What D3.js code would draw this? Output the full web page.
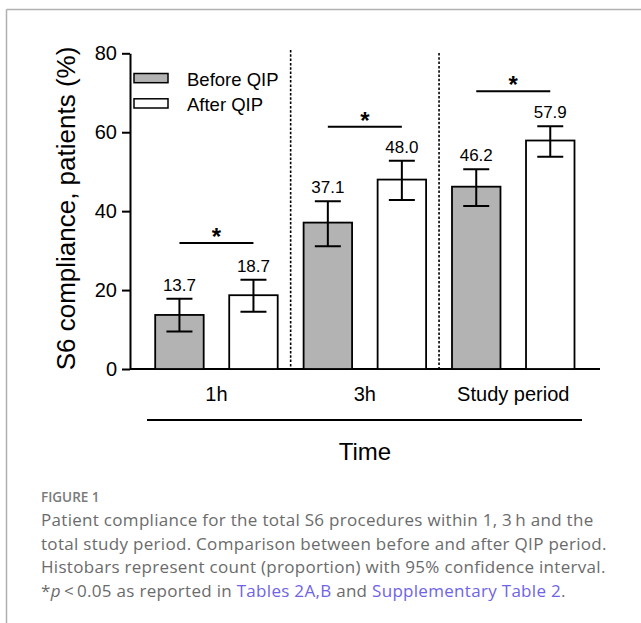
<!DOCTYPE html>
<meta charset="utf-8">
<head>
<style>
  body { margin: 0; background: #fff; }
</style>
</head>

<!-- Load d3.js -->
<script src="https://d3js.org/d3.v7.min.js"></script>

<body>
    <div id="my_dataviz"></div>
</body>

<script>

    // data
    var categories = ["1h", "3h", "Study period"];
    var series = ["Before QIP", "After QIP"];
    var beforeValues = [13.7, 37.1, 46.2];
    var afterValues = [18.7, 48.0, 57.9];
    // 95% CI (low, high)
    var beforeLow = [9.5, 31.1, 41.3];
    var beforeHigh = [17.8, 42.5, 50.6];
    var afterLow = [14.5, 42.8, 53.8];
    var afterHigh = [22.6, 52.8, 61.5];
    // height of the significance bracket per category
    var sigLevel = [31.9, 61.4, 70.4];
    var yTicks = [0, 20, 40, 60, 80];

    var colors = {"Before QIP": "#b3b3b3", "After QIP": "#ffffff"};
    var chartFont = "'Liberation Sans', Arial, sans-serif";
    var captionFont = "'Open Sans', Lato, sans-serif";

    var svg = d3.select("#my_dataviz")
      .append("svg")
        .attr("width", 641)
        .attr("height", 623);

    // light frame of the figure box (top and left only)
    svg.append("line").attr("x1", 6.5).attr("x2", 641).attr("y1", 9.5).attr("y2", 9.5)
      .style("stroke", "#b0b0b0").style("stroke-width", 1.5);
    svg.append("line").attr("x1", 6.5).attr("x2", 6.5).attr("y1", 9.5).attr("y2", 623)
      .style("stroke", "#b0b0b0").style("stroke-width", 1.5);

    // build rows for drawing
    var data = categories.map(function(c, i) {
        return {
            cat: c,
            bars: [
                {key: series[0], value: beforeValues[i], lo: beforeLow[i], hi: beforeHigh[i]},
                {key: series[1], value: afterValues[i], lo: afterLow[i], hi: afterHigh[i]}
            ],
            sig: sigLevel[i]
        };
    });

    // scales
    var x0 = d3.scaleBand()
        .domain(categories)
        .range([142.25, 587.45])
        .padding(0);
    var x1 = d3.scaleBand()
        .domain(series)
        .range([-61.25, 61.25])
        .paddingInner(0.345)
        .paddingOuter(0);
    var y = d3.scaleLinear()
        .domain([0, 80])
        .range([369, 53.3]);

    var axisLeftX = 130, axisRightX = 600;

    // Y axis
    var yAxis = svg.append("g")
        .attr("transform", "translate(" + axisLeftX + ",0)")
        .call(d3.axisLeft(y).tickValues(yTicks).tickSize(8).tickPadding(5).tickSizeOuter(0));
    yAxis.select(".domain").style("stroke", "#000").style("stroke-width", 2);
    yAxis.selectAll(".tick line").style("stroke", "#000").style("stroke-width", 2);
    yAxis.selectAll(".tick text")
        .style("font-family", chartFont).style("font-size", "20px").style("fill", "#000");

    // X axis baseline (no ticks)
    svg.append("line")
        .attr("x1", axisLeftX).attr("x2", axisRightX)
        .attr("y1", y(0)).attr("y2", y(0))
        .style("stroke", "#000").style("stroke-width", 2);

    // dotted separators between groups
    svg.selectAll(".sep")
      .data(categories.slice(0, 2))
      .enter()
      .append("line")
        .attr("x1", function(d) { return x0(d) + x0.step(); })
        .attr("x2", function(d) { return x0(d) + x0.step(); })
        .attr("y1", function(d, i) { return i == 0 ? 50 : 53; })
        .attr("y2", y(0))
        .style("stroke", "#000")
        .style("stroke-width", 1.6)
        .style("stroke-dasharray", "2.5,1.8");

    var groups = svg.selectAll(".grp")
      .data(data)
      .enter()
      .append("g")
        .attr("transform", function(d) { return "translate(" + (x0(d.cat) + x0.bandwidth() / 2) + ",0)"; });

    // bars
    groups.selectAll("rect")
      .data(function(d) { return d.bars; })
      .enter()
      .append("rect")
        .attr("x", function(d) { return x1(d.key); })
        .attr("y", function(d) { return y(d.value); })
        .attr("width", x1.bandwidth())
        .attr("height", function(d) { return y(0) - y(d.value); })
        .style("fill", function(d) { return colors[d.key]; })
        .style("stroke", "#000")
        .style("stroke-width", 1.8);

    // error bars
    var capHalf = 13;
    groups.selectAll(".err")
      .data(function(d) { return d.bars; })
      .enter()
      .append("path")
        .attr("d", function(d) {
            var cx = x1(d.key) + x1.bandwidth() / 2;
            return "M" + cx + "," + y(d.lo) + "V" + y(d.hi)
                 + "M" + (cx - capHalf) + "," + y(d.hi) + "H" + (cx + capHalf)
                 + "M" + (cx - capHalf) + "," + y(d.lo) + "H" + (cx + capHalf);
        })
        .style("fill", "none")
        .style("stroke", "#000")
        .style("stroke-width", 2);

    // value labels above the error bars
    groups.selectAll(".val")
      .data(function(d) { return d.bars; })
      .enter()
      .append("text")
        .attr("x", function(d) { return x1(d.key) + x1.bandwidth() / 2; })
        .attr("y", function(d) { return y(d.hi) - 8; })
        .attr("text-anchor", "middle")
        .style("font-family", chartFont)
        .style("font-size", "17px")
        .text(function(d) { return d.value.toFixed(1); });

    // significance bracket + star
    groups.append("line")
        .attr("x1", x1(series[0]) + x1.bandwidth() / 2)
        .attr("x2", x1(series[1]) + x1.bandwidth() / 2)
        .attr("y1", function(d) { return y(d.sig); })
        .attr("y2", function(d) { return y(d.sig); })
        .style("stroke", "#000")
        .style("stroke-width", 2);
    groups.append("text")
        .attr("x", 0)
        .attr("y", function(d) { return y(d.sig) + 2; })
        .attr("text-anchor", "middle")
        .style("font-family", chartFont)
        .style("font-size", "24px")
        .style("font-weight", "bold")
        .text("*");

    // category labels
    groups.append("text")
        .attr("x", 0)
        .attr("y", 401)
        .attr("text-anchor", "middle")
        .style("font-family", chartFont)
        .style("font-size", "20px")
        .text(function(d) { return d.cat; });

    // long line under categories + axis title
    svg.append("line")
        .attr("x1", 147).attr("x2", 582)
        .attr("y1", 420).attr("y2", 420)
        .style("stroke", "#000").style("stroke-width", 2);
    svg.append("text")
        .attr("x", 365).attr("y", 459.5)
        .attr("text-anchor", "middle")
        .style("font-family", chartFont)
        .style("font-size", "24px")
        .text("Time");

    // y axis title
    svg.append("text")
        .attr("transform", "translate(75,208.5) rotate(-90)")
        .attr("text-anchor", "middle")
        .style("font-family", chartFont)
        .style("font-size", "26px")
        .text("S6 compliance, patients (%)");

    // legend
    var legend = svg.append("g");
    series.forEach(function(s, i) {
        legend.append("rect")
            .attr("x", 134).attr("y", 73.5 + i * 25.3)
            .attr("width", 34).attr("height", 9.2)
            .style("fill", colors[s]).style("stroke", "#000").style("stroke-width", 1.5);
        legend.append("text")
            .attr("x", 187).attr("y", 85.5 + i * 25)
            .style("font-family", chartFont)
            .style("font-size", "18.5px")
            .text(s);
    });

    // caption
    svg.append("text")
        .attr("x", 41).attr("y", 502)
        .style("font-family", captionFont)
        .style("font-size", "13.5px")
        .style("font-weight", "600")
        .style("fill", "#7a7a7a")
        .text("FIGURE 1");

    var captionLines = [
        [{t: "Patient compliance for the total S6 procedures within 1, 3\u2009h and the"}],
        [{t: "total study period. Comparison between before and after QIP period."}],
        [{t: "Histobars represent count (proportion) with 95% confidence interval."}],
        [{t: "*"}, {t: "p", it: true}, {t: "\u2009<\u20090.05 as reported in "}, {t: "Tables 2A,B", link: true},
         {t: " and "}, {t: "Supplementary Table 2", link: true}, {t: "."}]
    ];
    captionLines.forEach(function(parts, i) {
        var line = svg.append("text")
            .attr("x", 41).attr("y", 526 + i * 23.6)
            .style("font-family", captionFont)
            .style("font-size", "17px")
            .style("letter-spacing", "0.3px")
            .style("fill", "#6b6b6b");
        parts.forEach(function(p) {
            line.append("tspan")
                .style("fill", p.link ? "#6f63e6" : "#6b6b6b")
                .style("font-style", p.it ? "italic" : "normal")
                .text(p.t);
        });
    });

</script>
